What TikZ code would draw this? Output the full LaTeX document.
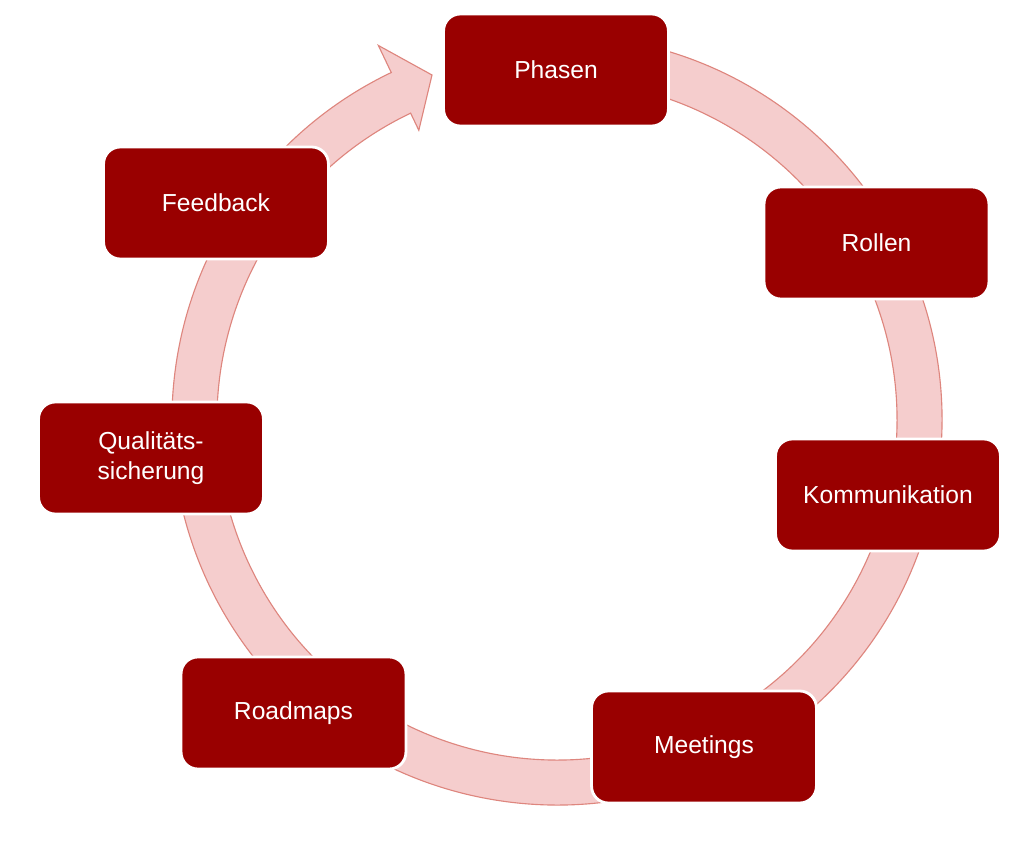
\documentclass[tikz,border=0pt]{standalone}
\usepackage{fontspec}
\setmainfont{Liberation Sans}
\usepackage{xcolor}
\definecolor{boxred}{RGB}{153,0,0}
\definecolor{ringfill}{RGB}{245,205,205}
\definecolor{ringline}{RGB}{222,134,126}
\usepackage{tikz}

\begin{document}
\begin{tikzpicture}[x=0.025cm,y=0.025cm,
  every node/.style={font=\fontsize{17.5}{21}\selectfont},
  cyclebox/.style={rectangle,rounded corners=0.42cm,fill=boxred,draw=white,
        line width=2pt,text=white,align=center,
        minimum width=5.62cm,minimum height=2.8cm}]
  \useasboundingbox (-557,-423) rectangle (467,420);
  % Ring with arrow head
  \filldraw[fill=ringfill,draw=ringline,line width=0.8pt]
    (80:385) arc[start angle=80,end angle=-244.5,radius=385]
    -- (115.5:415) -- (-125,345) -- (115.5:321) -- (115.5:340)
    arc[start angle=-244.5,end angle=80,radius=340] -- cycle;
  % Phasen
  \node[cyclebox] at (-1,350) (Ph) {Phasen};
  % Rollen
  \node[cyclebox] at (319.5,177) (Ro) {Rollen};
  % Kommunikation
  \node[cyclebox] at (331,-75) (Ko) {Kommunikation};
  % Meetings
  \node[cyclebox] at (147,-327) (Me) {Meetings};
  % Roadmaps
  \node[cyclebox] at (-263.5,-293) (Rm) {Roadmaps};
  % Qualitaetssicherung
  \node[cyclebox] at (-406,-38) (Qs) {Qualit\"ats-\\sicherung};
  % Feedback
  \node[cyclebox] at (-341,217) (Fb) {Feedback};
\end{tikzpicture}
\end{document}
